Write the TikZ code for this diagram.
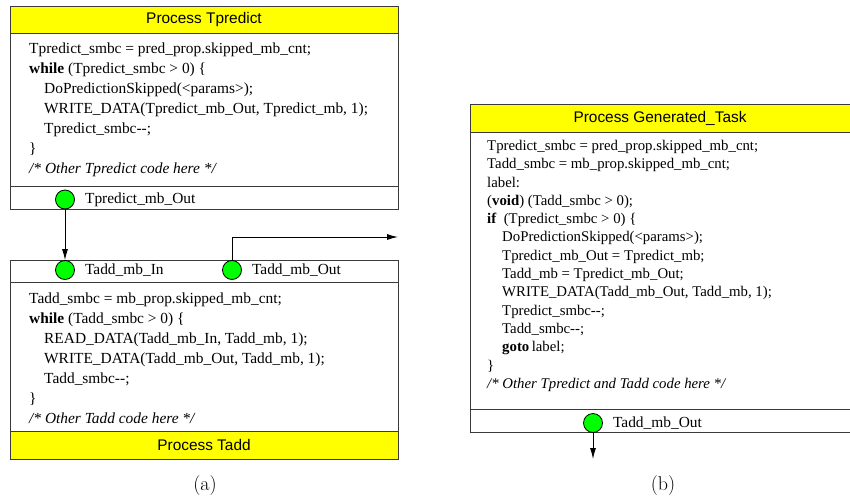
\documentclass[tikz,border=0pt]{standalone}
\usepackage{fontspec}
\newfontfamily\codefont{Liberation Serif}
\newfontfamily\titlefont{Liberation Sans}
\usetikzlibrary{arrows.meta,positioning}
\definecolor{hdr}{HTML}{FFFF00}
\definecolor{port}{HTML}{00FF00}
\definecolor{frame}{HTML}{3A3A3A}
\newcommand{\decr}{-\kern0pt-}
\newcommand{\ind}{\hspace*{15pt}}

\tikzset{
  procbox/.style={draw=frame, line width=1pt},
  hdrbox/.style={draw=frame, fill=hdr, line width=1pt},
  portdot/.style={circle, draw=black, fill=port, minimum size=19pt, inner sep=0pt, line width=0.8pt},
  portlbl/.style={anchor=west, inner sep=0pt, font=\codefont\fontsize{15.4}{18}\selectfont},
  titletxt/.style={inner sep=0pt, font=\titlefont\fontsize{15.4}{18}\selectfont},
  codeblk/.style={anchor=north west, align=left, inner sep=0pt, font=\codefont\fontsize{15.4}{20}\selectfont},
  flow/.style={-{Latex[length=11pt,width=6pt]}, line width=0.9pt},
  sublbl/.style={inner sep=0pt, font=\fontsize{20}{24}\selectfont},
}

\begin{document}
\begin{tikzpicture}[x=1pt,y=-1pt]
  \useasboundingbox (0,0) rectangle (850,498);

  % (a) process Tpredict
  \draw[hdrbox] (10,6) rectangle (398,33);
  \node[titletxt] (tpTitle) at (204,19.5) {Process Tpredict};
  \draw[procbox] (10,33) rectangle (398,209);
  \draw[procbox] (10,186) -- (398,186);
  \node[codeblk] (tpCode) at (29,42.5) {%
    Tpredict\_smbc = pred\_prop.skipped\_mb\_cnt;\\
    \textbf{while} (Tpredict\_smbc > 0) \{\\
    \ind DoPredictionSkipped(<params>);\\
    \ind WRITE\_DATA(Tpredict\_mb\_Out, Tpredict\_mb, 1);\\
    \ind Tpredict\_smbc\decr;\\
    \}\\
    \textit{/* Other Tpredict code here */}};
  \node[portdot] (tpOut) at (65,199.5) {};
  \node[portlbl, right=10pt of tpOut] (tpOutLbl) {Tpredict\_mb\_Out};

  % (a) process Tadd
  \draw[procbox] (10,260) rectangle (398,431);
  \draw[procbox] (10,282) -- (398,282);
  \draw[hdrbox] (10,431) rectangle (398,459);
  \node[titletxt] (taTitle) at (204,445) {Process Tadd};
  \node[portdot] (taIn) at (65,270) {};
  \node[portlbl, right=10pt of taIn] (taInLbl) {Tadd\_mb\_In};
  \node[portdot] (taOut) at (232,270) {};
  \node[portlbl, right=10pt of taOut] (taOutLbl) {Tadd\_mb\_Out};
  \node[codeblk] (taCode) at (29,292.5) {%
    Tadd\_smbc = mb\_prop.skipped\_mb\_cnt;\\
    \textbf{while} (Tadd\_smbc > 0) \{\\
    \ind READ\_DATA(Tadd\_mb\_In, Tadd\_mb, 1);\\
    \ind WRITE\_DATA(Tadd\_mb\_Out, Tadd\_mb, 1);\\
    \ind Tadd\_smbc\decr;\\
    \}\\
    \textit{/* Other Tadd code here */}};

  \draw[flow] (tpOut) -- (taIn);
  \coordinate (taExit) at (398,237);
  \draw[flow] (taOut.north) |- (taExit);

  % (b) generated task
  \draw[hdrbox] (470,104) rectangle (852,132);
  \node[titletxt] (gtTitle) at (660,118) {Process Generated\_Task};
  \draw[procbox] (470,132) rectangle (852,432);
  \draw[procbox] (470,409) -- (852,409);
  \node[codeblk, font=\codefont\fontsize{14.8}{18.3}\selectfont] (gtCode) at (487,140) {%
    Tpredict\_smbc = pred\_prop.skipped\_mb\_cnt;\\
    Tadd\_smbc = mb\_prop.skipped\_mb\_cnt;\\
    label:\\
    (\textbf{void}) (Tadd\_smbc > 0);\\
    \textbf{if}\ \ (Tpredict\_smbc > 0) \{\\
    \ind DoPredictionSkipped(<params>);\\
    \ind Tpredict\_mb\_Out = Tpredict\_mb;\\
    \ind Tadd\_mb = Tpredict\_mb\_Out;\\
    \ind WRITE\_DATA(Tadd\_mb\_Out, Tadd\_mb, 1);\\
    \ind Tpredict\_smbc\decr;\\
    \ind Tadd\_smbc\decr;\\
    \ind \textbf{goto}\,label;\\
    \}\\
    \textit{/* Other Tpredict and Tadd code here */}};
  \node[portdot] (gtOut) at (593,423) {};
  \node[portlbl, right=10pt of gtOut] (gtOutLbl) {Tadd\_mb\_Out};
  \coordinate (gtExit) at (593,459);
  \draw[flow] (gtOut) -- (gtExit);

  \node[sublbl] (capA) at (205,485) {(a)};
  \node[sublbl] (capB) at (663,485) {(b)};
\end{tikzpicture}
\end{document}
